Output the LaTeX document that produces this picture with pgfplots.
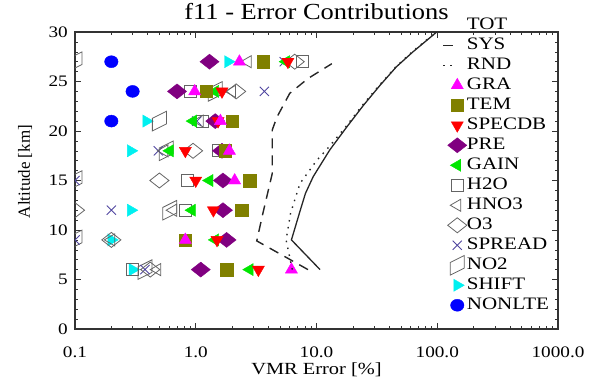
\documentclass[border=0pt]{standalone}
\usepackage{pgfplots}
\pgfplotsset{compat=1.18}
\usepackage{fontspec}
\setmainfont[FakeStretch=1.2]{Liberation Serif}
\newfontfamily\axislabelfont{Liberation Serif}
\newfontfamily\titlefont[FakeStretch=1.15]{Liberation Serif}

\definecolor{gracol}{RGB}{255,0,255}
\definecolor{temcol}{RGB}{128,128,0}
\definecolor{speccol}{RGB}{255,0,0}
\definecolor{precol}{RGB}{128,0,128}
\definecolor{gaincol}{RGB}{0,230,0}
\definecolor{opencol}{RGB}{100,100,100}
\definecolor{spreadcol}{RGB}{80,70,160}
\definecolor{shiftcol}{RGB}{0,240,240}
\definecolor{nltecol}{RGB}{0,0,255}

% slanted box used for the NO2 contribution
\pgfdeclareplotmark{slab}{%
  \pgfpathmoveto{\pgfqpoint{-1\pgfplotmarksize}{-1.4\pgfplotmarksize}}%
  \pgfpathlineto{\pgfqpoint{-1\pgfplotmarksize}{0.4\pgfplotmarksize}}%
  \pgfpathlineto{\pgfqpoint{1\pgfplotmarksize}{1.4\pgfplotmarksize}}%
  \pgfpathlineto{\pgfqpoint{1\pgfplotmarksize}{-0.4\pgfplotmarksize}}%
  \pgfpathclose\pgfusepathqstroke}

\pgfplotsset{
  mk/.style={only marks, legend image code/.code={%
      \path[draw=none, fill=none] (-15pt,-10pt) rectangle (5pt,10pt);
      \draw[##1] plot coordinates {(0pt,0pt)};}},
  ln/.style={legend image code/.code={%
      \path[draw=none, fill=none] (-15pt,-10pt) rectangle (5pt,10pt);
      \draw[##1] (-14pt,0pt) -- (-2pt,0pt);}},
  noimg/.style={legend image code/.code={\path[draw=none, fill=none] (-15pt,-10pt) rectangle (5pt,10pt);}},
  gra/.style={mark=triangle*, mark size=7pt, color=gracol},
  tem/.style={mark=square*, mark size=6.2pt, color=temcol},
  spec/.style={mark=triangle*, mark size=7pt, color=speccol, mark options={rotate=180}},
  pre/.style={mark=diamond*, mark size=7.5pt, color=precol, mark options={xscale=1.7}},
  gain/.style={mark=triangle*, mark size=7pt, color=gaincol, mark options={rotate=90}},
  h2o/.style={mark=square, mark size=6pt, color=opencol, mark options={line width=0.8pt}},
  hno3/.style={mark=triangle, mark size=7pt, color=opencol, mark options={rotate=90, line width=0.8pt}},
  othree/.style={mark=diamond, mark size=7.5pt, color=opencol, mark options={xscale=1.7, line width=0.8pt}},
  spread/.style={mark=x, mark size=6.5pt, color=spreadcol, mark options={line width=0.9pt}},
  notwo/.style={mark=slab, mark size=7pt, color=opencol, mark options={line width=0.8pt}},
  shift/.style={mark=triangle*, mark size=7pt, color=shiftcol, mark options={rotate=-90}},
  nlte/.style={mark=*, mark size=6pt, color=nltecol, mark options={xscale=1.12}},
}

\begin{document}
\begin{tikzpicture}
\begin{axis}[
  scale only axis,
  width=483pt, height=297pt,
  xmode=log,
  xmin=0.1, xmax=1000,
  ymin=0, ymax=30,
  clip marker paths=true,
  xtick={0.1,1,10,100,1000},
  xticklabels={0.1,1.0,10.0,100.0,1000.0},
  minor xtick={0.2,0.3,0.4,0.5,0.6,0.7,0.8,0.9,2,3,4,5,6,7,8,9,20,30,40,50,60,70,80,90,200,300,400,500,600,700,800,900},
  ytick={0,5,10,15,20,25,30},
  yticklabels={0,5,10,15,20,25,30},
  minor y tick num=4,
  /pgf/number format/assume math mode=true,
  tick align=inside,
  major tick length=6pt, minor tick length=3pt,
  every tick/.style={black!80, line width=0.6pt},
  axis line style={black!80, line width=1.1pt},
  xticklabel style={font=\fontsize{16}{16}\selectfont, anchor=base, inner sep=0pt, yshift=-28pt},
  yticklabel style={font=\fontsize{16}{16}\selectfont, anchor=east, inner sep=0pt, xshift=-7pt},
  title={\titlefont f11 - Error Contributions},
  title style={font=\fontsize{23}{23}\selectfont, at={(axis description cs:0.5,1)}, anchor=base, inner sep=0pt, yshift=7pt},
  xlabel={VMR Error [\%]},
  xlabel style={font=\fontsize{17}{17}\selectfont, at={(axis description cs:0.5,0)}, anchor=base, inner sep=0pt, yshift=-45pt},
  ylabel={\axislabelfont Altitude [km]},
  ylabel style={font=\fontsize{17}{17}\selectfont, at={(axis description cs:-0.1035,0.53)}, anchor=center, inner sep=0pt},
  legend style={draw=none, fill=none, inner sep=0pt, at={(axis description cs:0.760,1.057)}, anchor=north west,
    font=\fontsize{17.5}{17.5}\selectfont, row sep=0pt, column sep=0pt,
    nodes={inner sep=0pt, text height=12pt, text depth=4pt}},
  legend cell align=left,
  reverse legend,
]
% individual contributions, drawn from the last legend entry to the first
\addplot[mk, nlte] coordinates {(0.2,21) (0.30,24) (0.2,27)};
\addlegendentry{NONLTE}
\addplot[mk, shift] coordinates {(0.30,6) (0.2,9) (0.29,12) (0.29,18) (0.39,21) (1.85,27)};
\addlegendentry{SHIFT}
\addplot[mk, notwo] coordinates {(0.38,6) (0.1,9) (0.61,12) (0.1,15) (0.57,18) (0.5,21) (1.45,24) (0.1,27)};
\addlegendentry{NO2}
\addplot[mk, spread] coordinates {(0.38,6) (0.1,9) (0.2,12) (0.1,15) (0.49,18) (1.02,21) (3.7,24) (5.4,27)};
\addlegendentry{SPREAD}
\addplot[mk, othree] coordinates {(0.42,6) (0.2,9) (0.1,12) (0.5,15) (0.95,18) (2.16,24) (6.6,27)};
\addlegendentry{O3}
\addplot[mk, hno3] coordinates {(0.48,6) (0.2,9) (0.65,12) (0.55,18) (1.08,21) (2.0,24) (2.7,27)};
\addlegendentry{HNO3}
\addplot[mk, h2o] coordinates {(0.30,6) (0.82,12) (0.86,15) (1.53,18) (1.13,21) (0.9,24) (7.6,27)};
\addlegendentry{H2O}
\addplot[mk, gain] coordinates {(2.8,6) (1.45,9) (0.93,12) (1.3,15) (0.61,18) (0.95,21) (1.45,24) (5.6,27)};
\addlegendentry{GAIN}
\addplot[mk, pre] coordinates {(1.1,6) (1.8,9) (1.68,12) (1.68,15) (1.65,18) (1.45,21) (0.70,24) (1.3,27)};
\addlegendentry{PRE}
\addplot[mk, spec] coordinates {(3.3,6) (1.5,9) (1.4,12) (1.0,15) (0.82,18) (1.53,21) (1.65,24) (5.8,27)};
\addlegendentry{SPECDB}
\addplot[mk, tem] coordinates {(1.8,6) (0.82,9) (2.4,12) (2.8,15) (1.75,18) (2.0,21) (1.22,24) (3.6,27)};
\addlegendentry{TEM}
\addplot[mk, gra] coordinates {(6.2,6) (0.82,9) (2.1,15) (1.9,18) (1.6,21) (0.98,24) (2.3,27)};
\addlegendentry{GRA}
% random, systematic and total error profiles
\addplot[ln, black!85, line width=1.4pt, dash pattern=on 1.5pt off 5.5pt] coordinates {
  (6.3,6) (5.6,9) (6.1,11.7) (7.3,14.7) (10,17) (12.7,18.4) (17.4,20.4) (24,22.6) (33,24.6) (45.5,26.5) (62,28) (98,30)};
\addlegendentry{RND}
\addplot[ln, black!85, line width=1.4pt, dash pattern=on 10pt off 7pt] coordinates {
  (8.5,6) (3.2,8.9) (3.6,11.7) (4.3,15.7) (4.3,18.1) (4.3,20.1) (4.7,21.4) (6.0,23.8) (8.5,25.3) (13.4,26.8)};
\addlegendentry{SYS}
\addplot[noimg, black!85, line width=1.3pt] coordinates {
  (10.7,6) (6.2,9) (7.3,11.9) (8.1,13.7) (9.4,15.4) (12.9,18.1) (17.8,20.4) (24.5,22.6) (33.5,24.6) (46,26.5) (63,28) (99,30)};
\addlegendentry{TOT}
\end{axis}
\pgfresetboundingbox
\path ([xshift=-75pt,yshift=-62pt]current axis.south west) rectangle ([xshift=43pt,yshift=32pt]current axis.north east);
\end{tikzpicture}
\end{document}
